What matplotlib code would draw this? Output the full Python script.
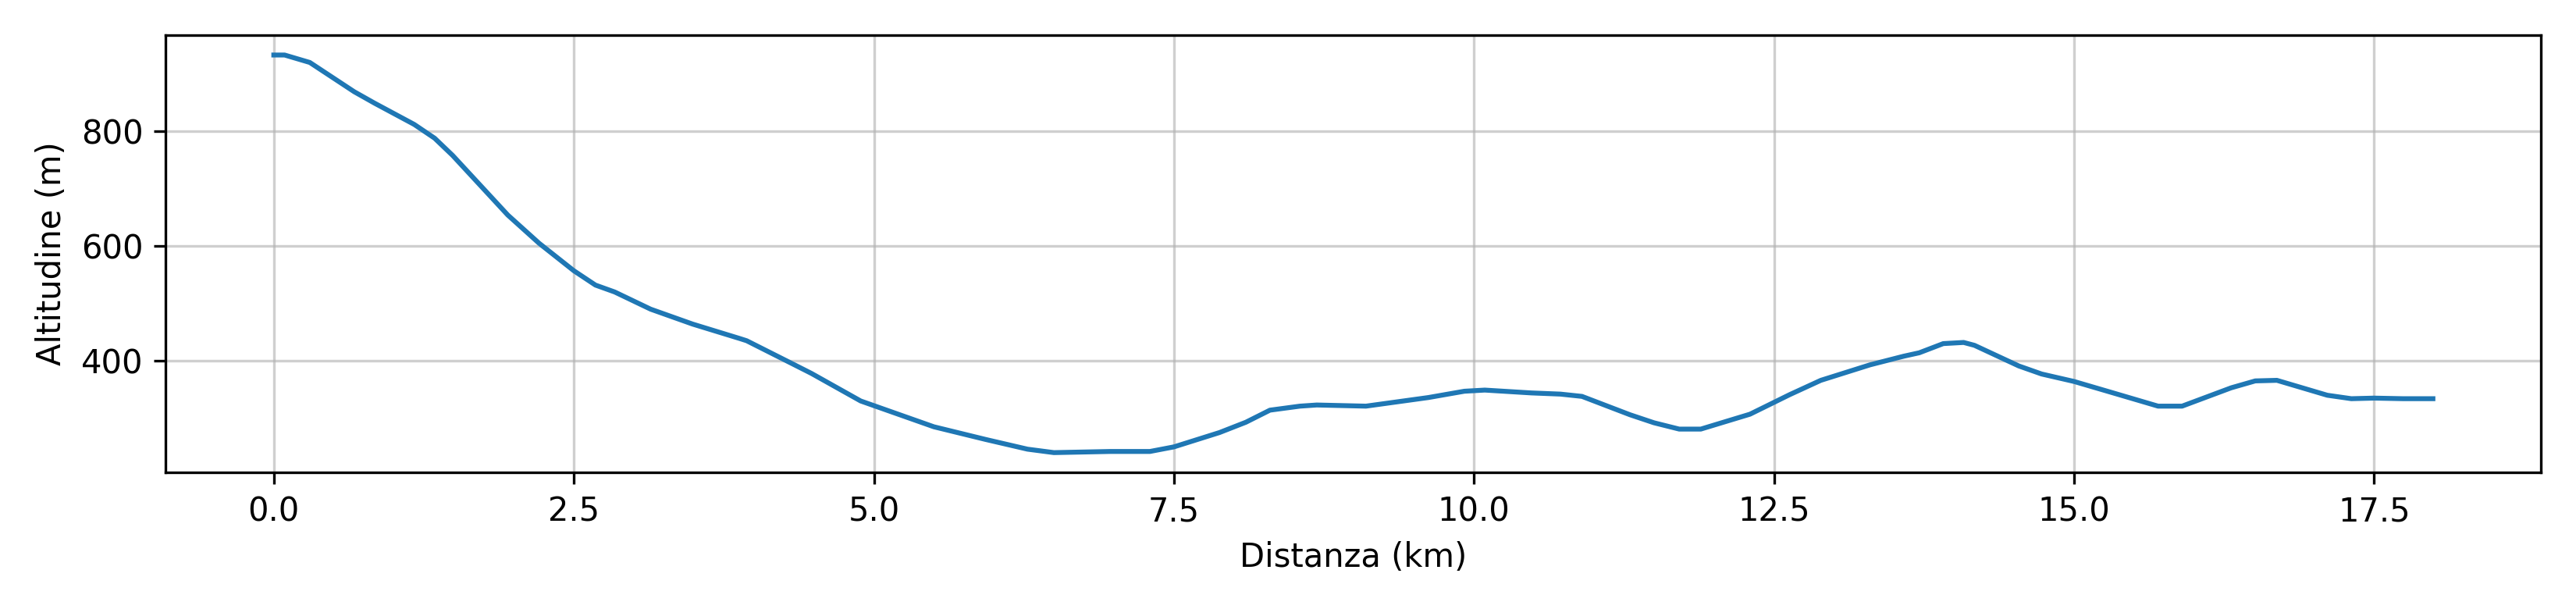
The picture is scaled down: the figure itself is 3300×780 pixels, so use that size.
import matplotlib
matplotlib.use("Agg")
import matplotlib.pyplot as plt

# Profilo altimetrico del percorso
distanza_km = [0.00, 0.09, 0.30, 0.67, 0.84, 1.17, 1.34, 1.49, 1.95, 2.21,
               2.50, 2.68, 2.84, 3.14, 3.49, 3.88, 3.94, 4.31, 4.48, 4.89,
               5.50, 5.93, 6.28, 6.50, 6.97, 7.30, 7.50, 7.88, 8.10, 8.30,
               8.55, 8.69, 9.10, 9.62, 9.92, 10.09, 10.48, 10.72, 10.90, 11.30,
               11.50, 11.71, 11.89, 12.30, 12.63, 12.89, 13.30, 13.58, 13.71, 13.91,
               14.08, 14.17, 14.54, 14.73, 15.00, 15.31, 15.70, 15.90, 16.31, 16.51,
               16.69, 17.11, 17.31, 17.50, 17.74, 17.99]
altitudine_m = [933, 933, 920, 869, 849, 812, 788, 758, 654, 605,
                557, 532, 520, 490, 464, 439, 435, 396, 378, 330,
                285, 263, 246, 240, 242, 242, 250, 275, 293, 314,
                321, 323, 321, 336, 347, 349, 344, 342, 338, 306,
                292, 281, 281, 307, 341, 366, 393, 408, 414, 430,
                432, 427, 391, 377, 364, 345, 321, 321, 353, 365,
                366, 340, 334, 335, 334, 334]

fig, ax = plt.subplots(figsize=(11, 2.6), dpi=300)

ax.plot(distanza_km, altitudine_m, color='#1f77b4', linewidth=1.5)

ax.set_xlabel('Distanza (km)')
ax.set_ylabel('Altitudine (m)')
ax.grid(True, alpha=0.6)

plt.tight_layout()
plt.savefig('out.png', dpi=300)
